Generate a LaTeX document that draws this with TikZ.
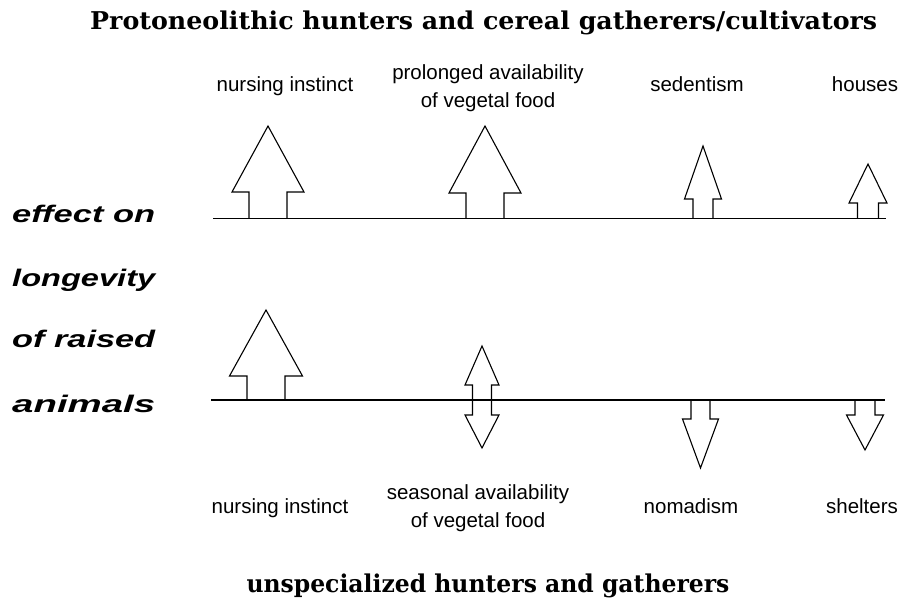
\documentclass[tikz,border=0pt]{standalone}
\usepackage{fontspec}
\usepackage{graphicx}
\usepackage{tikz}
\setmainfont{Liberation Serif}
\setsansfont{Liberation Sans}
\newfontfamily\headfont{DejaVu Serif}
\newfontfamily\tagfont{Liberation Sans}
\tikzset{>=stealth,
  head/.style={font=\headfont\bfseries\fontsize{24.5}{28}\selectfont,inner sep=0pt},
  tag/.style={font=\tagfont\fontsize{20.5}{28}\selectfont,inner sep=0pt,align=center},
  side/.style={font=\tagfont\bfseries\itshape\fontsize{24}{28}\selectfont,inner sep=0pt,anchor=base west},
  blk/.style={line width=1.1pt,line join=miter}}
\newcommand\blockarr[6]{\draw[blk] (#1-#2,#4) -- (#1-#2,#5) -- (#1-#3,#5) -- (#1,#6) -- (#1+#3,#5) -- (#1+#2,#5) -- (#1+#2,#4);}

\begin{document}
\begin{tikzpicture}[x=1pt,y=-1pt]
      \useasboundingbox (0,0) rectangle (903,604);
      \node[head,anchor=base west] at (90,30) (title) {\resizebox{787pt}{\height}{Protoneolithic hunters and cereal gatherers/cultivators}};
      \node[head,anchor=base] at (488,592) (foot) {\resizebox{483pt}{\height}{unspecialized hunters and gatherers}};
      \node[side] at (12,223) (s1) {\resizebox{143pt}{\height}{effect on}};
      \node[side] at (12,287) (s2) {\resizebox{143pt}{\height}{longevity}};
      \node[side] at (12,348) (s3) {\resizebox{143pt}{\height}{of raised}};
      \node[side] at (12,412) (s4) {\resizebox{143pt}{\height}{animals}};
      \node[tag,anchor=base] at (285,92) (nurse) {nursing instinct};
      \node[tag] at (488,88.5) (prolonged) {prolonged availability\\of vegetal food};
      \node[tag,anchor=base] at (697,92) (sedent) {sedentism};
      \node[tag,anchor=base] at (865,92) (houses) {houses};
      \node[tag,anchor=base] at (280,513) (nurse2) {nursing instinct};
      \node[tag] at (478,508.5) (seasonal) {seasonal availability\\of vegetal food};
      \node[tag,anchor=base] at (691,513) (nomad) {nomadism};
      \node[tag,anchor=base] at (862,513) (shelter) {shelters};
      \draw[blk] (213,218.5) -- (886,218.5);
      \draw[blk] (211,400) -- (885,400);
      \blockarr{268}{19}{36}{218.5}{192}{126}
      \blockarr{485}{19}{36}{218.5}{193}{126}
      \blockarr{703}{10}{18.5}{218.5}{199}{146}
      \blockarr{868}{10.5}{19}{218.5}{203}{164}
      \blockarr{266}{19}{36.5}{400}{376}{310}
      \blockarr{700.5}{9.5}{18}{400}{419}{468}
      \blockarr{865}{10}{18.5}{400}{415}{450}
      \draw[blk] (472.5,385) -- (465,385) -- (482,346) -- (499,385) -- (491.5,385) -- (491.5,415) -- (499,415) -- (482,448) -- (465,415) -- (472.5,415) -- cycle;
\end{tikzpicture}
\end{document}
